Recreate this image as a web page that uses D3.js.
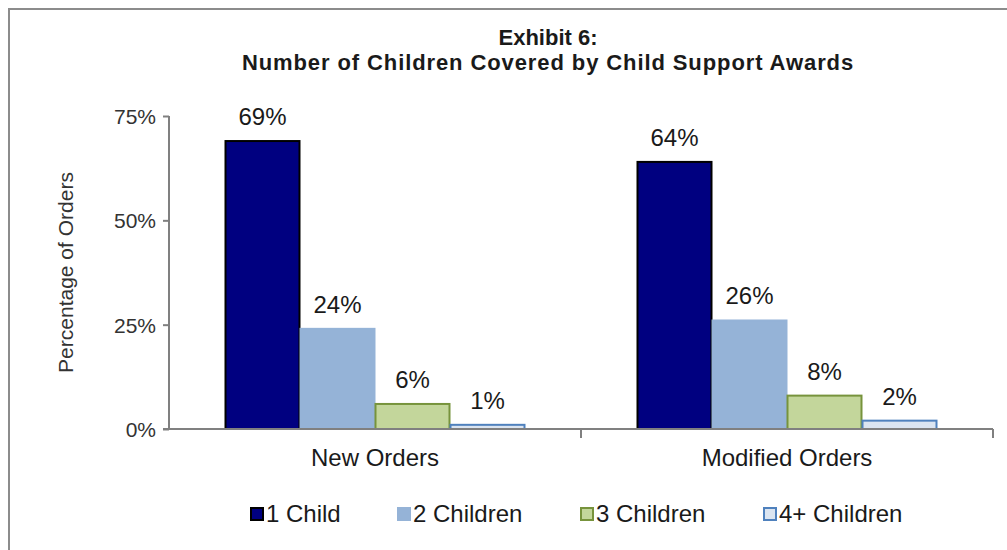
<!DOCTYPE html>
<html>
<head>
<meta charset="utf-8">
<script src="https://cdn.jsdelivr.net/npm/d3@7"></script>
<style>
  body { margin: 0; background: #fff; }
  text { font-family: Arial, "Liberation Sans", sans-serif; fill: #1a1a1a; }
</style>
</head>
<body>
<script>
var width = 1007;
var height = 550;

// data
var categories = ["New Orders", "Modified Orders"];
var seriesNames = ["1 Child", "2 Children", "3 Children", "4+ Children"];
var newOrders = [69, 24, 6, 1];
var modifiedOrders = [64, 26, 8, 2];
var yTicks = [0, 25, 50, 75];

var fills = ["#000080", "#95b3d7", "#c3d69b", "#dbe5f1"];
var strokes = ["#000000", "#95b3d7", "#77933c", "#4f81bd"];

var table = categories.map(function(c, i){
    var vals = i == 0 ? newOrders : modifiedOrders;
    return {category: c, values: vals.map(function(v, j){ return {series: seriesNames[j], value: v, idx: j}; })};
});

var svg = d3.select("body")
    .append("svg")
    .attr("width", width)
    .attr("height", height);

// outer frame
svg.append("path")
    .attr("d", "M9," + height + "V9H" + width)
    .attr("fill", "none")
    .attr("stroke", "#8c8c8c")
    .attr("stroke-width", 2);

var marge = {top: 116, bottom: 121, left: 169, right: 14};

var x0 = d3.scaleBand()
    .domain(categories)
    .range([marge.left, width - marge.right]);

var x1 = d3.scaleBand()
    .domain(seriesNames)
    .range([0, 300]);

var y = d3.scaleLinear()
    .domain([0, 75])
    .range([height - marge.bottom, marge.top]);

// title
var title = svg.append("g")
    .attr("text-anchor", "middle")
    .style("font-weight", "bold")
    .style("font-size", "22px");
title.append("text").attr("x", 548).attr("y", 45).text("Exhibit 6:");
title.append("text").attr("x", 548).attr("y", 70)
    .style("letter-spacing", "0.9px")
    .text("Number of Children Covered by Child Support Awards");

// y axis
var yAxis = d3.axisLeft(y)
    .tickValues(yTicks)
    .tickSize(6)
    .tickPadding(7)
    .tickFormat(function(d){ return d + "%"; });

var gy = svg.append("g")
    .attr("transform", "translate(" + marge.left + ",0)")
    .call(yAxis);
gy.select(".domain").remove();
gy.append("line")
    .attr("y1", y(75)).attr("y2", y(0))
    .attr("stroke", "#808080").attr("stroke-width", 2);
gy.selectAll(".tick line").attr("stroke", "#808080").attr("stroke-width", 2);
gy.selectAll(".tick text")
    .style("font-size", "21px")
    .style("fill", "#333")
    .attr("dy", "0.35em");

svg.append("text")
    .attr("transform", "translate(73," + ((y(0) + y(75)) / 2) + ") rotate(-90)")
    .attr("text-anchor", "middle")
    .style("font-size", "21px")
    .style("fill", "#333")
    .text("Percentage of Orders");

// bars
var groups = svg.selectAll(".grp")
    .data(table)
    .enter()
    .append("g")
    .attr("class", "grp")
    .attr("transform", function(d){
        return "translate(" + (x0(d.category) + x0.bandwidth() / 2 - 150) + ",0)";
    });

groups.selectAll("rect")
    .data(function(d){ return d.values; })
    .enter()
    .append("rect")
    .attr("x", function(d){ return x1(d.series) + 0.5; })
    .attr("y", function(d){ return y(d.value); })
    .attr("width", x1.bandwidth() - 1)
    .attr("height", function(d){ return y(0) - y(d.value); })
    .attr("fill", function(d){ return fills[d.idx]; })
    .attr("stroke", function(d){ return strokes[d.idx]; })
    .attr("stroke-width", 2);

groups.selectAll(".lbl")
    .data(function(d){ return d.values; })
    .enter()
    .append("text")
    .attr("class", "lbl")
    .attr("x", function(d){ return x1(d.series) + x1.bandwidth() / 2; })
    .attr("y", function(d){ return y(d.value) - 16; })
    .attr("text-anchor", "middle")
    .style("font-size", "24px")
    .text(function(d){ return d.value + "%"; });

// x axis
var xAxis = d3.axisBottom(x0)
    .tickSize(0)
    .tickPadding(20);

var gx = svg.append("g")
    .attr("transform", "translate(0," + y(0) + ")")
    .call(xAxis);
gx.select(".domain").remove();
gx.append("line")
    .attr("x1", marge.left - 6).attr("x2", width - marge.right)
    .attr("stroke", "#808080").attr("stroke-width", 2);
gx.selectAll(".tick text")
    .style("font-size", "24px")
    .style("fill", "#1a1a1a");
gx.selectAll(".sep")
    .data(categories)
    .enter()
    .append("line")
    .attr("class", "sep")
    .attr("x1", function(d){ return x0(d) + x0.bandwidth(); })
    .attr("x2", function(d){ return x0(d) + x0.bandwidth(); })
    .attr("y1", 0).attr("y2", 9)
    .attr("stroke", "#808080").attr("stroke-width", 2);

// legend
var legendX = [250, 397, 580, 763];
var legend = svg.selectAll(".leg")
    .data(seriesNames)
    .enter()
    .append("g")
    .attr("class", "leg")
    .attr("transform", function(d, i){ return "translate(" + legendX[i] + ",514)"; });

legend.append("rect")
    .attr("x", 1).attr("y", -6)
    .attr("width", 12).attr("height", 12)
    .attr("fill", function(d, i){ return fills[i]; })
    .attr("stroke", function(d, i){ return strokes[i]; })
    .attr("stroke-width", 2);

legend.append("text")
    .attr("x", 16)
    .attr("dy", "0.35em")
    .style("font-size", "24px")
    .text(function(d){ return d; });
</script>
</body>
</html>
